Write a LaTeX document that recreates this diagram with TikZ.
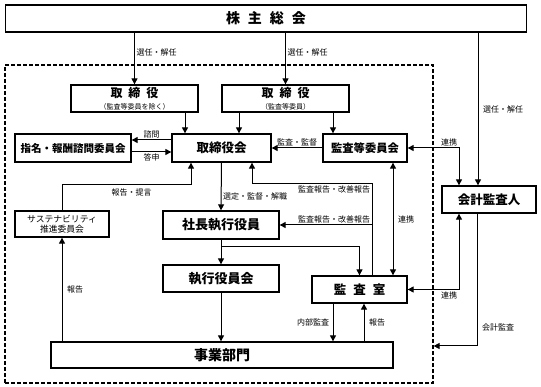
\documentclass[tikz,border=0pt]{standalone}
\usepackage{fontspec}
\setmainfont{Noto Sans CJK JP}
\usetikzlibrary{arrows.meta,calc,positioning}

\begin{document}
\begin{tikzpicture}[x=1pt,y=-1pt,line width=1pt,
>={Triangle[length=6pt,width=6pt]},
box/.style={draw,line width=1.3pt,inner sep=0pt,align=center,font=\bfseries\fontsize{12.5}{14}\selectfont},
lbl/.style={inner sep=1.5pt,font=\fontsize{8}{9}\selectfont}]
\useasboundingbox (0,0) rectangle (541,387);
\node[draw,line width=1.2pt,dash pattern=on 4pt off 2pt,minimum width=428pt,minimum height=318pt] (org) at (219,224) {};
\node[box,minimum width=521pt,minimum height=27pt,font=\bfseries\fontsize{14}{16}\selectfont] (gm) at (266,18.5) {株\hspace{8pt}主\hspace{8pt}総\hspace{8pt}会};
\node[box,minimum width=127pt,minimum height=27pt] (dirA) at (134.5,98.5) {\fontsize{12}{12}\selectfont 取\hspace{6pt}締\hspace{6pt}役\\[-2pt]\mdseries\fontsize{7}{8}\selectfont （監査等委員を除く）};
\node[box,minimum width=127pt,minimum height=27pt] (dirB) at (285.5,98.5) {\fontsize{12}{12}\selectfont 取\hspace{6pt}締\hspace{6pt}役\\[-2pt]\mdseries\fontsize{7}{8}\selectfont （監査等委員）};
\node[box,minimum width=99pt,minimum height=28pt] (board) at (221.5,148) {取締役会};
\node[box,minimum width=116pt,minimum height=28pt,font=\bfseries\fontsize{10.5}{12}\selectfont] (nom) at (73,148) {指名・報酬諮問委員会};
\node[box,minimum width=84pt,minimum height=28pt,font=\bfseries\fontsize{11.3}{13}\selectfont] (ac) at (365,148) {監査等委員会};
\node[box,minimum width=94pt,minimum height=27pt] (auditor) at (489,199.5) {会計監査人};
\node[box,minimum width=94pt,minimum height=26pt,font=\fontsize{8.8}{10.5}\selectfont] (sus) at (62,224) {サステナビリティ\\推進委員会};
\node[box,minimum width=116pt,minimum height=28pt,font=\bfseries\fontsize{13}{15}\selectfont] (ceo) at (221,225) {社長執行役員};
\node[box,minimum width=116pt,minimum height=27pt,font=\bfseries\fontsize{13}{15}\selectfont] (exec) at (221,278.5) {執行役員会};
\node[box,minimum width=95pt,minimum height=27pt] (audit) at (359.5,289.5) {監\hspace{7pt}査\hspace{7pt}室};
\node[box,minimum width=342pt,minimum height=26pt,font=\bfseries\fontsize{14}{16}\selectfont] (biz) at (222,355) {事業部門};
% shareholders
\draw[->] (dirA.north |- gm.south) -- (dirA.north) node[lbl,pos=0.38,right] {選任・解任};
\draw[->] (dirB.north |- gm.south) -- (dirB.north) node[lbl,pos=0.38,right] {選任・解任};
\draw[->] ([xshift=-11pt]auditor.north |- gm.south) -- ([xshift=-11pt]auditor.north) node[lbl,midway,right=3pt] {選任・解任};
% board
\draw[->] ([xshift=-36.5pt]board.north |- dirA.south) -- ([xshift=-36.5pt]board.north);
\draw[->] ([xshift=17.5pt]board.north |- dirB.south) -- ([xshift=17.5pt]board.north);
\draw[->] ([xshift=-32pt]ac.north |- dirB.south) -- ([xshift=-32pt]ac.north);
\draw[->] (ac.west) -- (board.east) node[lbl,midway,above] {監査・監督};
\draw[->] ([yshift=8pt]board.west) -- ([yshift=8pt]nom.east) node[lbl,midway,above] {諮問};
\draw[->] ([yshift=-4pt]nom.east) -- ([yshift=-4pt]board.west) node[lbl,midway,below] {答申};
\draw[->] (sus.north) -- ++(0,-26) -| node[lbl,pos=0.27,below=2pt] {報告・提言} ([xshift=-30.5pt]board.south);
\draw[->] (board.south) -- (ceo.north) node[lbl,pos=0.7,right] {選定・監督・解職};
% audit office
\draw[->] ([xshift=12.5pt]audit.north) -- ++(0,-92) node[lbl,anchor=north east] {監査報告・改善報告} -| ([xshift=30.5pt]board.south);
\draw[->] ([xshift=12.5pt]audit.north |- ceo.east) -- (ceo.east) node[lbl,pos=0,anchor=south east] {監査報告・改善報告};
\draw[<->] ([xshift=28pt]ac.south) -- ([xshift=28pt]ac.south |- audit.north) node[lbl,midway,right=3pt] {連携};
\draw[->] (ceo.south) -- (exec.north);
\draw[->] ([yshift=-7pt]ceo.south) -| (audit.north);
\draw[->] (exec.south) -- (exec.south |- biz.north);
\draw[->] (sus.south |- biz.north) -- (sus.south) node[lbl,midway,right=3pt] {報告};
\draw[->] ([xshift=-26.5pt]audit.south) -- ([xshift=-26.5pt]audit.south |- biz.north) node[lbl,midway,left=2pt] {内部監査};
\draw[->] ([xshift=4.5pt]audit.south |- biz.north) -- ([xshift=4.5pt]audit.south) node[lbl,midway,right=3pt] {報告};
% accounting auditor
\draw[<->] (ac.east) -| node[lbl,pos=0.5,above left] {連携} ([xshift=-30pt]auditor.north);
\draw[<->] ([xshift=-30pt]auditor.south) |- node[lbl,pos=0.5,below left] {連携} (audit.east);
\draw[->] ([xshift=-12pt]auditor.south) |- node[lbl,pos=0.43,right=3pt] {会計監査} ([yshift=-122pt]org.east);
\end{tikzpicture}
\end{document}
